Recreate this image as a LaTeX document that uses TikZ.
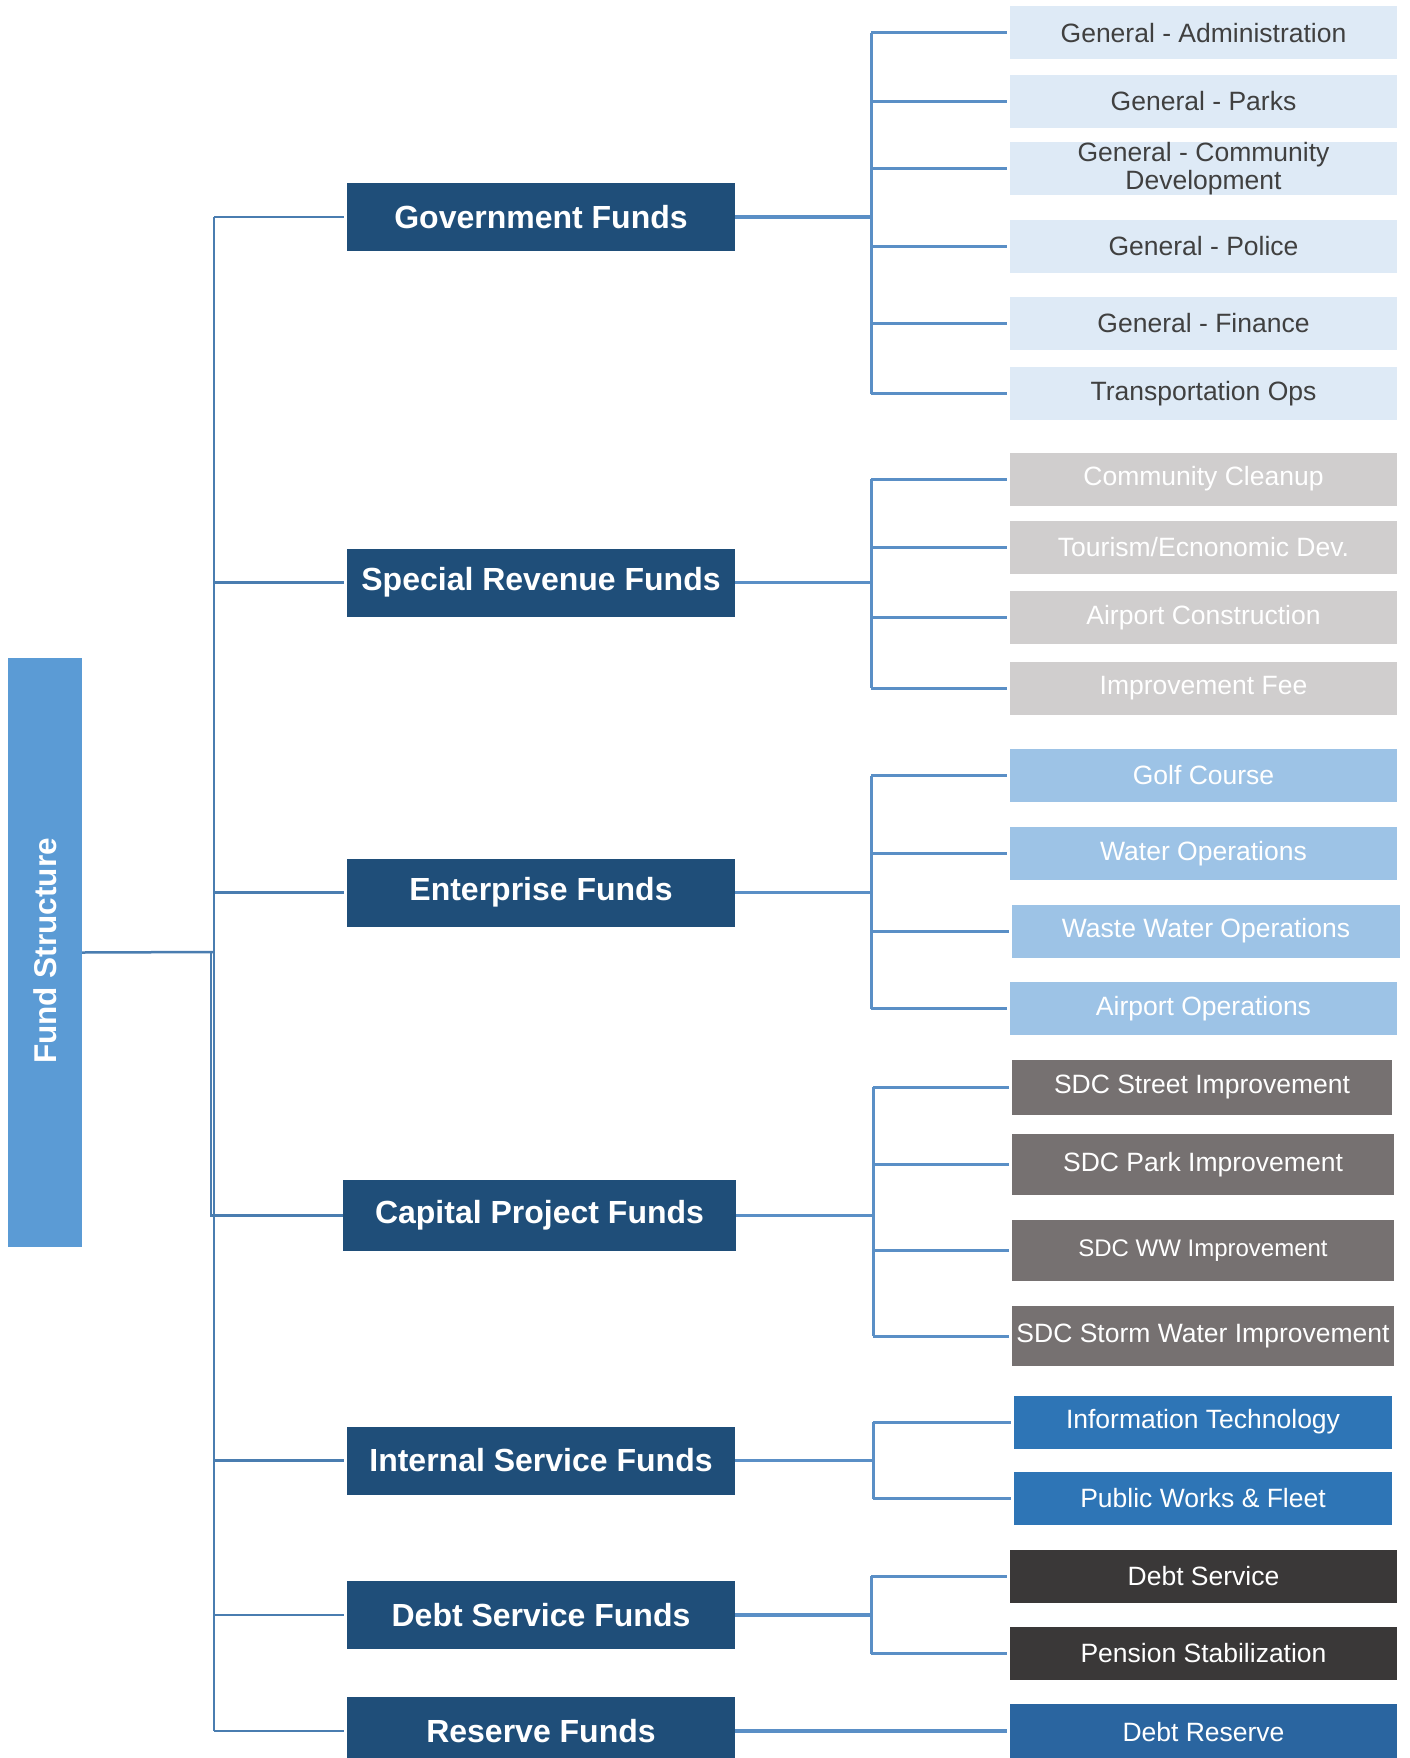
\documentclass[tikz,border=0pt]{standalone}
\usepackage{fontspec}
\setmainfont{Liberation Sans}
\definecolor{darkblue}{HTML}{1F4E79}
\definecolor{fundblue}{HTML}{5B9BD5}
\definecolor{genfill}{HTML}{DEEAF6}
\definecolor{gentext}{HTML}{404040}
\definecolor{sprgray}{HTML}{D0CECE}
\definecolor{entblue}{HTML}{9DC3E6}
\definecolor{capgray}{HTML}{767171}
\definecolor{intblue}{HTML}{2E75B6}
\definecolor{debtdark}{HTML}{3A3838}
\definecolor{resblue}{HTML}{2A65A0}
\definecolor{trunkline}{HTML}{4A7DB0}
\definecolor{subline}{HTML}{5A8FC6}
\tikzset{
  lvlone/.style={fill=darkblue, text=white, inner sep=0pt, minimum width=388pt, minimum height=68pt,
    font=\fontsize{32}{36}\selectfont\bfseries},
  leafbox/.style={inner sep=0pt, minimum width=387pt, minimum height=53pt, text=white,
    font=\fontsize{26.5}{30}\selectfont, align=center},
  genleaf/.style={leafbox, fill=genfill, text=gentext},
  sprleaf/.style={leafbox, fill=sprgray},
  entleaf/.style={leafbox, fill=entblue},
  capleaf/.style={leafbox, fill=capgray, minimum height=55pt},
  intleaf/.style={leafbox, fill=intblue},
  debtleaf/.style={leafbox, fill=debtdark},
  resleaf/.style={leafbox, fill=resblue, minimum height=56pt},
  trunk/.style={draw=trunkline, line width=2.5pt},
  sub/.style={draw=subline, line width=3pt},
  subh/.style={draw=subline, line width=3.5pt},
}
\begin{document}
\begin{tikzpicture}[x=1pt,y=-1pt]
\clip (0,0) rectangle (1410,1758);
\fill[white] (0,0) rectangle (1410,1758);

% root
\node[fill=fundblue, inner sep=0pt, minimum width=74pt, minimum height=589pt] (root) at (45,952.5) {};
\node[rotate=90, text=white, font=\fontsize{31.5}{34}\selectfont\bfseries] (roottext) at (45,951) {Fund Structure};

% level one
\node[lvlone] (gov) at (541,217) {Government Funds};
\node[lvlone] (spr) at (541,582.5) {Special Revenue Funds};
\node[lvlone] (ent) at (541,892.5) {Enterprise Funds};
\node[lvlone, minimum width=393pt, minimum height=71pt] (cap) at (539.5,1215.5) {Capital Project Funds};
\node[lvlone] (int) at (541,1460.5) {Internal Service Funds};
\node[lvlone] (dsf) at (541,1615) {Debt Service Funds};
\node[lvlone] (res) at (541,1731) {Reserve Funds};

% leaves: government
\node[genleaf] (g1) at (1203.5,33) {General - Administration};
\node[genleaf] (g2) at (1203.5,101.5) {General - Parks};
\node[genleaf, font=\fontsize{26.5}{28}\selectfont] (g3) at (1203.5,168.5) {General - Community\\Development};
\node[genleaf] (g4) at (1203.5,246.5) {General - Police};
\node[genleaf] (g5) at (1203.5,323.5) {General - Finance};
\node[genleaf] (g6) at (1203.5,393.5) {Transportation Ops};
% special revenue
\node[sprleaf] (s1) at (1203.5,479) {Community Cleanup};
\node[sprleaf] (s2) at (1203.5,547.5) {Tourism/Ecnonomic Dev.};
\node[sprleaf] (s3) at (1203.5,617.5) {Airport Construction};
\node[sprleaf] (s4) at (1203.5,688) {Improvement Fee};
% enterprise
\node[entleaf] (e1) at (1203.5,775.5) {Golf Course};
\node[entleaf] (e2) at (1203.5,853.5) {Water Operations};
\node[entleaf, minimum width=388pt] (e3) at (1206,931) {Waste Water Operations};
\node[entleaf] (e4) at (1203.5,1008.5) {Airport Operations};
% capital
\node[capleaf, minimum width=380pt] (c1) at (1202,1087) {SDC Street Improvement};
\node[capleaf, minimum width=382pt, minimum height=61pt] (c2) at (1203,1164.5) {SDC Park Improvement};
\node[capleaf, minimum width=382pt, minimum height=61pt, font=\fontsize{24}{28}\selectfont] (c3) at (1203,1250.5) {SDC WW Improvement};
\node[capleaf, minimum width=382pt, minimum height=60pt] (c4) at (1203,1336) {SDC Storm Water Improvement};
% internal
\node[intleaf, minimum width=378pt] (i1) at (1203,1422) {Information Technology};
\node[intleaf, minimum width=378pt] (i2) at (1203,1498.5) {Public Works \& Fleet};
% debt
\node[debtleaf] (d1) at (1203.5,1576) {Debt Service};
\node[debtleaf] (d2) at (1203.5,1653.5) {Pension Stabilization};
% reserve
\node[resleaf] (r1) at (1203.5,1732) {Debt Reserve};

% trunk
\coordinate (t0) at (214,952);
\coordinate (t1) at (211,952);
\draw[trunk] (gov.west -| t0) -- (res.west -| t0);
\draw[trunk] (root.east) -- (t0);
\draw[trunk] (t1) -- (t1 |- cap.west) -- (cap.west);
\foreach \n in {gov,spr,ent,int,dsf,res}
  \draw[trunk, shorten >=3pt] (\n.west -| t0) -- (\n.west);

% sub trunks
\coordinate (sx) at (871,0);
\coordinate (sy) at (873,0);
\draw[subh] (gov.east) -- (gov.east -| sx);
\draw[sub] (g1.west -| sx) -- (g6.west -| sx);
\foreach \n in {g1,g2,g3,g4,g5,g6}
  \draw[sub, shorten >=3pt] (\n.west -| sx) -- (\n.west);

\draw[subh] (spr.east) -- (spr.east -| sx);
\draw[sub] (s1.west -| sx) -- (s4.west -| sx);
\foreach \n in {s1,s2,s3,s4}
  \draw[sub, shorten >=3pt] (\n.west -| sx) -- (\n.west);

\draw[subh] (ent.east) -- (ent.east -| sx);
\draw[sub] (e1.west -| sx) -- (e4.west -| sx);
\foreach \n in {e1,e2,e3,e4}
  \draw[sub, shorten >=3pt] (\n.west -| sx) -- (\n.west);

\draw[subh] (cap.east) -- (cap.east -| sy);
\draw[sub] (c1.west -| sy) -- (c4.west -| sy);
\foreach \n in {c1,c2,c3,c4}
  \draw[sub, shorten >=3pt] (\n.west -| sy) -- (\n.west);

\draw[subh] (int.east) -- (int.east -| sy);
\draw[sub] (i1.west -| sy) -- (i2.west -| sy);
\foreach \n in {i1,i2}
  \draw[sub, shorten >=3pt] (\n.west -| sy) -- (\n.west);

\draw[subh] (dsf.east) -- (dsf.east -| sx);
\draw[sub] (d1.west -| sx) -- (d2.west -| sx);
\foreach \n in {d1,d2}
  \draw[sub, shorten >=3pt] (\n.west -| sx) -- (\n.west);

\draw[subh, shorten >=3pt] (res.east) -- (r1.west |- res.east);
\end{tikzpicture}
\end{document}
